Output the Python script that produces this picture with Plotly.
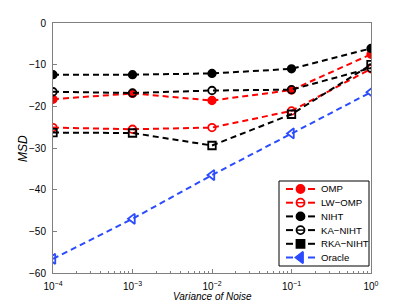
import plotly.graph_objects as go

noise_var = [1e-4, 1e-3, 1e-2, 1e-1, 1e0]
x_tick_vals = [1e-4, 1e-3, 1e-2, 1e-1, 1e0]
x_tick_text = ["10<sup>\u22124</sup>", "10<sup>\u22123</sup>", "10<sup>\u22122</sup>",
               "10<sup>\u22121</sup>", "10<sup>0</sup>"]
y_tick_vals = [-60, -50, -40, -30, -20, -10, 0]
y_tick_text = ["\u221260", "\u221250", "\u221240", "\u221230", "\u221220", "\u221210", "0"]

omp = [-18.3, -16.9, -18.6, -16.1, -7.5]
lw_omp = [-25.1, -25.5, -25.1, -21.1, -11.0]
niht = [-12.4, -12.4, -12.1, -11.0, -6.1]
ka_niht = [-16.5, -16.8, -16.2, -16.0, -10.8]
rka_niht = [-26.3, -26.4, -29.4, -21.9, -10.0]
oracle = [-56.6, -47.0, -36.5, -26.5, -16.6]

RED = "#ff0000"
BLK = "#000000"
BLU = "#2b4bff"
DASH = "6px,4px"
FAM = "Liberation Sans, Arial, sans-serif"

series = [
    ("OMP", omp, RED, "circle", "circle"),
    ("LW\u2212OMP", lw_omp, RED, "circle-open", "circle-open"),
    ("NIHT", niht, BLK, "circle", "circle"),
    ("KA\u2212NIHT", ka_niht, BLK, "circle-open", "circle-open"),
    ("RKA\u2212NIHT", rka_niht, BLK, "square-open", "square"),
    ("Oracle", oracle, BLU, "triangle-left-open", "triangle-left"),
]

fig = go.Figure()
for name, ys, col, sym, _ in series:
    fig.add_trace(go.Scatter(
        x=noise_var, y=ys, name=name, mode="lines+markers", showlegend=False,
        line=dict(color=col, width=2, dash=DASH),
        marker=dict(symbol=sym, size=9 if "triangle" in sym else 7.5, color=col,
                    line=dict(color=col, width=1.8)),
    ))

# ---- custom legend (drawn on an invisible overlay axis in plot-area fractions) ----
L, R, T, B, W, H = 53, 371, 23, 273, 318, 250
fx = lambda px: (px - L) / W
fy = lambda py: (B - py) / H
bx0, bx1, by0, by1 = fx(279), fx(369), fy(266), fy(181)
fig.add_trace(go.Scatter(
    x=[bx0, bx1, bx1, bx0, bx0], y=[by0, by0, by1, by1, by0],
    xaxis="x2", yaxis="y2", mode="lines", fill="toself", fillcolor="white",
    line=dict(color="#000", width=1), showlegend=False, hoverinfo="skip"))

annotations = []
for i, (name, ys, col, sym, lsym) in enumerate(series):
    py = 189 + i * 13.7
    yy = fy(py)
    fig.add_trace(go.Scatter(
        x=[fx(286), fx(293)], y=[yy, yy], xaxis="x2", yaxis="y2", mode="lines",
        line=dict(color=col, width=2), showlegend=False, hoverinfo="skip"))
    fig.add_trace(go.Scatter(
        x=[fx(308), fx(315)], y=[yy, yy], xaxis="x2", yaxis="y2", mode="lines",
        line=dict(color=col, width=2), showlegend=False, hoverinfo="skip"))
    if "open" in lsym:
        fig.add_trace(go.Scatter(
            x=[fx(297), fx(304)], y=[yy, yy], xaxis="x2", yaxis="y2", mode="lines",
            line=dict(color=col, width=1.5), showlegend=False, hoverinfo="skip"))
    fig.add_trace(go.Scatter(
        x=[fx(300.5)], y=[yy], xaxis="x2", yaxis="y2", mode="markers",
        marker=dict(symbol=lsym, size=8 if "triangle" not in lsym else 10, color=col,
                    line=dict(color=col, width=1.8)),
        showlegend=False, hoverinfo="skip"))
    annotations.append(dict(
        x=fx(318.5), y=yy, xref="paper", yref="paper", text=name, showarrow=False,
        xanchor="left", yanchor="middle",
        font=dict(family=FAM, size=9.6, color="#000")))

# axis titles placed as text at the reference positions
annotations.append(dict(x=fx(212), y=fy(296), xref="paper", yref="paper",
                        text="<i>Variance of Noise</i>", showarrow=False,
                        xanchor="center", yanchor="middle",
                        font=dict(family=FAM, size=10, color="#000")))
annotations.append(dict(x=fx(23), y=fy(148), xref="paper", yref="paper",
                        text="<i>MSD</i>", showarrow=False, textangle=-90,
                        xanchor="center", yanchor="middle",
                        font=dict(family=FAM, size=12, color="#000")))

fig.update_layout(
    width=409, height=307,
    margin=dict(l=L, r=409 - R, t=T, b=307 - B, autoexpand=False),
    paper_bgcolor="white", plot_bgcolor="white",
    font=dict(family=FAM, size=10, color="#000"),
    showlegend=False,
    annotations=annotations,
    xaxis=dict(type="log", range=[-4, 0], tickvals=x_tick_vals, ticktext=x_tick_text,
               showline=True, linecolor="#808080", linewidth=1, mirror=True,
               ticks="inside", ticklen=4, tickcolor="#808080", showgrid=False, zeroline=False,
               minor=dict(ticks="inside", ticklen=2, tickcolor="#808080", showgrid=False,
                          tickvals=[m * 10 ** e for e in range(-4, 0) for m in range(2, 10)]),
               tickfont=dict(size=10), ticklabelstandoff=4),
    yaxis=dict(range=[-60, 0], tickvals=y_tick_vals, ticktext=y_tick_text,
               showline=True, linecolor="#808080", linewidth=1, mirror=True,
               ticks="inside", ticklen=4, tickcolor="#808080", showgrid=False, zeroline=False,
               tickfont=dict(size=10), ticklabelstandoff=4),
    xaxis2=dict(overlaying="x", range=[0, 1], visible=False, fixedrange=True),
    yaxis2=dict(overlaying="y", range=[0, 1], visible=False, fixedrange=True),
)

fig.write_html("out.html", config={"displayModeBar": False},
               post_script="document.body.style.margin='0';")
